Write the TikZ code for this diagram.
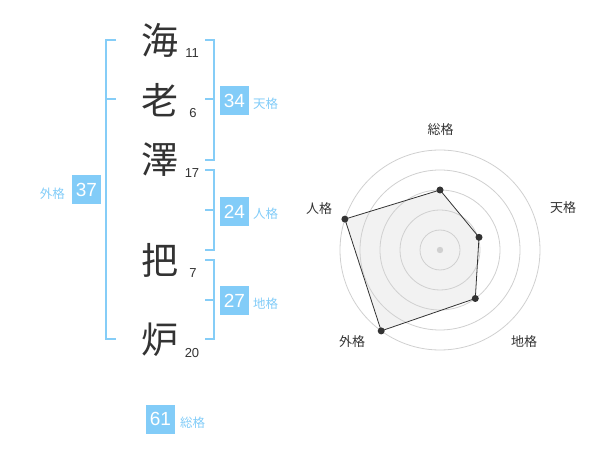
\documentclass[tikz,border=0pt]{standalone}
\usepackage{fontspec}
\setmainfont{Liberation Sans}
\newfontfamily\cjk{Noto Sans CJK JP}
\begin{document}
\begin{tikzpicture}[x=1pt,y=-1pt,
  br/.style={draw=brblue,line width=2pt},
  kanji/.style={font=\cjk\fontsize{37}{37}\selectfont,text=kcol,inner sep=0pt},
  stroke/.style={font=\fontsize{13}{13}\selectfont,text=kcol,inner sep=0pt},
  valbox/.style={fill=boxblue,text=white,font=\fontsize{19}{19}\selectfont,minimum width=29pt,minimum height=29pt,inner sep=0pt},
  vlab/.style={font=\cjk\fontsize{12.5}{12.5}\selectfont,text=boxblue,inner sep=0pt},
  ring/.style={draw=ringgray,line width=0.8pt},
  rlab/.style={font=\cjk\fontsize{13}{13}\selectfont,text=kcol,inner sep=0pt},
  mk/.style={circle,fill=mkcol,inner sep=0pt,minimum size=7pt}]
\definecolor{brblue}{HTML}{85CDF7}
\definecolor{boxblue}{HTML}{82CCF8}
\definecolor{kcol}{HTML}{333333}
\definecolor{ringgray}{HTML}{D0D0D0}
\definecolor{mkcol}{HTML}{333333}
\useasboundingbox (0,0) rectangle (600,470);
% kanji
\node[kanji] (k1) at (160,40) {海};
\node[kanji] (k2) at (160,100) {老};
\node[kanji] (k3) at (160,160) {澤};
\node[kanji] (k4) at (160,260) {把};
\node[kanji] (k5) at (160,340) {炉};
\node[stroke] (s1) at (192,53) {11};
\node[stroke] (s2) at (193,113) {6};
\node[stroke] (s3) at (192,173) {17};
\node[stroke] (s4) at (193,273) {7};
\node[stroke] (s5) at (192,353) {20};
% brackets
\draw[br] (116,40) -- (106,40) -- (106,339) -- (116,339);
\draw[br] (106,99) -- (116,99);
\draw[br] (205,40) -- (214,40) -- (214,160) -- (205,160);
\draw[br] (205,99) -- (214,99);
\draw[br] (205,170) -- (214,170) -- (214,250) -- (205,250);
\draw[br] (205,210) -- (214,210);
\draw[br] (205,260) -- (214,260) -- (214,339) -- (205,339);
\draw[br] (205,300) -- (214,300);
% value boxes
\node[valbox] (b34) at (234.5,100.5) {34};
\node[vlab,anchor=west] (l34) at (253,104) {天格};
\node[valbox] (b24) at (234.5,211.5) {24};
\node[vlab,anchor=west] (l24) at (253,214) {人格};
\node[valbox] (b27) at (234.5,300.5) {27};
\node[vlab,anchor=west] (l27) at (253,304) {地格};
\node[valbox] (b37) at (86.5,190) {37};
\node[vlab,anchor=east] (l37) at (65,194) {外格};
\node[valbox] (b61) at (160.5,419) {61};
\node[vlab,anchor=west] (l61) at (180,423) {総格};
% radar
\coordinate (c) at (440,250);
\coordinate (p1) at (440,190);
\coordinate (p2) at (479,237.3);
\coordinate (p3) at (475.3,298.5);
\coordinate (p4) at (381.2,330.9);
\coordinate (p5) at (344.9,219.1);
\fill[fill=black!5] (p1) -- (p2) -- (p3) -- (p4) -- (p5) -- cycle;
\foreach \r in {20,40,60,80,100} \draw[ring] (c) circle (\r);
\draw[mkcol,line width=0.8pt] (p1) -- (p2) -- (p3) -- (p4) -- (p5) -- cycle;
\fill[ringgray] (c) circle (3.2);
\foreach \p in {p1,p2,p3,p4,p5} \node[mk] at (\p) {};
\node[rlab] (t1) at (440.5,130) {総格};
\node[rlab] (t2) at (563,208) {天格};
\node[rlab] (t3) at (524,342) {地格};
\node[rlab] (t4) at (352,342) {外格};
\node[rlab] (t5) at (319,209) {人格};
\end{tikzpicture}
\end{document}
